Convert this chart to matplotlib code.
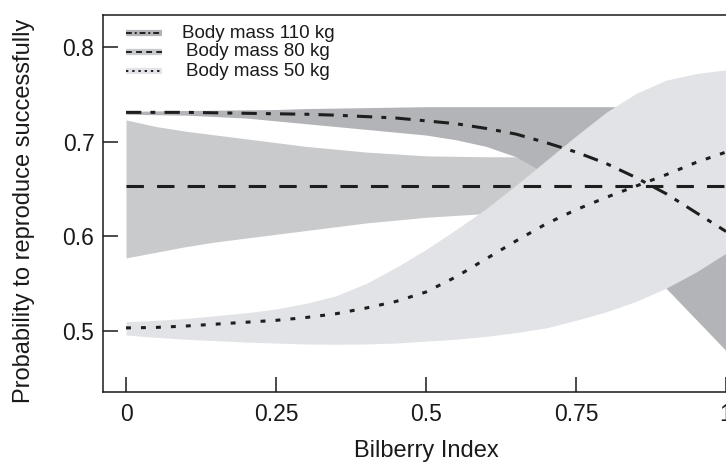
import numpy as np
import matplotlib
matplotlib.use("Agg")
import matplotlib.pyplot as plt

plt.rcParams["font.family"] = ["Liberation Sans", "DejaVu Sans"]

# ==============================
# Data (predicted probability vs bilberry index)
# ==============================
bilberry = [0.0, 0.05, 0.1, 0.15, 0.2, 0.25, 0.3, 0.35, 0.4, 0.45, 0.5,
            0.55, 0.6, 0.65, 0.7, 0.75, 0.8, 0.85, 0.9, 0.95, 1.0]

fit_110 = [0.731, 0.731, 0.731, 0.7305, 0.730, 0.7295, 0.729, 0.728, 0.7265, 0.725, 0.722,
           0.719, 0.714, 0.708, 0.699, 0.689, 0.677, 0.662, 0.645, 0.625, 0.605]
lo_110 = [0.729, 0.7285, 0.728, 0.7265, 0.725, 0.722, 0.719, 0.716, 0.713, 0.710, 0.707,
          0.702, 0.695, 0.684, 0.666, 0.640, 0.612, 0.580, 0.545, 0.512, 0.479]
hi_110 = [0.732, 0.7325, 0.733, 0.7333, 0.7337, 0.734, 0.735, 0.7355, 0.736, 0.7365, 0.737,
          0.737, 0.737, 0.737, 0.737, 0.737, 0.737, 0.737, 0.737, 0.737, 0.737]

fit_80 = [0.6534] * len(bilberry)
lo_80 = [0.577, 0.583, 0.589, 0.594, 0.598, 0.602, 0.606, 0.610, 0.614, 0.617, 0.620,
         0.622, 0.624, 0.625, 0.625, 0.625, 0.625, 0.625, 0.625, 0.625, 0.625]
hi_80 = [0.723, 0.716, 0.711, 0.707, 0.703, 0.699, 0.695, 0.692, 0.689, 0.687, 0.685,
         0.6845, 0.684, 0.684, 0.684, 0.684, 0.684, 0.684, 0.684, 0.684, 0.684]

fit_50 = [0.503, 0.5035, 0.505, 0.507, 0.509, 0.511, 0.514, 0.518, 0.524, 0.531, 0.541,
          0.557, 0.576, 0.595, 0.613, 0.628, 0.641, 0.653, 0.665, 0.678, 0.689]
lo_50 = [0.4955, 0.493, 0.491, 0.4895, 0.488, 0.487, 0.486, 0.4857, 0.486, 0.487, 0.489,
         0.491, 0.494, 0.498, 0.503, 0.511, 0.520, 0.531, 0.545, 0.562, 0.582]
hi_50 = [0.5095, 0.511, 0.513, 0.516, 0.519, 0.523, 0.529, 0.537, 0.550, 0.567, 0.586,
         0.607, 0.629, 0.654, 0.680, 0.706, 0.731, 0.751, 0.765, 0.772, 0.776]

labels = ["Body mass 110 kg", "Body mass 80 kg", "Body mass 50 kg"]

# ==============================
# Styles
# ==============================
C_DARK = "#b3b4b7"
C_MID = "#c9cacc"
C_LIGHT = "#e2e3e6"
C_LINE = "#1e1e1e"
LW = 2.2

DASH_110 = (0, (5.0, 3.0, 1.6, 3.0))
DASH_80 = (0, (5.7, 4.3))
DASH_50 = (0, (1.6, 3.3))

fig = plt.figure(figsize=(7.26, 4.68), dpi=100)
# axes run past the right edge of the figure
ax = fig.add_axes([0.1415, 0.163, 0.8916, 0.805])

x = np.array(bilberry)

# bands: 80 kg first, then 110 kg, then 50 kg on top
ax.fill_between(x, lo_80, hi_80, color=C_MID, linewidth=0)
ax.fill_between(x, lo_110, hi_110, color=C_DARK, linewidth=0)
ax.fill_between(x, lo_50, hi_50, color=C_LIGHT, linewidth=0)

ax.plot(x, fit_110, color=C_LINE, linewidth=LW, linestyle=DASH_110)
ax.plot(x, fit_80, color=C_LINE, linewidth=LW, linestyle=DASH_80)
ax.plot(x, fit_50, color=C_LINE, linewidth=LW, linestyle=DASH_50)

ax.set_xlim(-0.0388, 1.04)
ax.set_ylim(0.4355, 0.834)

ax.set_xticks([0, 0.25, 0.5, 0.75, 1])
ax.set_xticklabels(["0", "0.25", "0.5", "0.75", "1"])
ax.set_yticks([0.5, 0.6, 0.7, 0.8])
ax.set_yticklabels(["0.5", "0.6", "0.7", "0.8"])

ax.tick_params(axis="both", direction="in", length=11, width=1.1,
               labelsize=16.5, colors="#1a1a1a")
ax.tick_params(axis="x", pad=8)
ax.tick_params(axis="y", pad=6)
for sp in ax.spines.values():
    sp.set_linewidth(1.1)
    sp.set_color("#1a1a1a")

ax.set_xlabel("Bilberry Index", fontsize=17, color="#1a1a1a", labelpad=10)
ax.set_ylabel("Probability to reproduce successfully", fontsize=17, color="#1a1a1a")
ax.yaxis.set_label_coords(-0.104, 0.48)

# ==============================
# Legend (grey band swatch + line sample)
# ==============================
leg_rows = [0.952, 0.902, 0.851]
leg_fill = [C_DARK, C_MID, C_LIGHT]
leg_dash = [(0, (3.0, 1.5, 1.0, 1.5)), (0, (3.0, 2.2)), (0, (1.2, 2.0))]
for yy, lab, fc, ds in zip(leg_rows, labels, leg_fill, leg_dash):
    ax.plot([0.036, 0.092], [yy, yy], transform=ax.transAxes, color=fc,
            linewidth=4.5, solid_capstyle="butt", clip_on=False)
    ax.plot([0.036, 0.092], [yy, yy], transform=ax.transAxes, color=C_LINE,
            linewidth=1.4, linestyle=ds, clip_on=False)
    ax.text(0.240, yy, lab, transform=ax.transAxes, ha="center", va="center",
            fontsize=13.5, color="#1a1a1a")

fig.savefig("out.png", dpi=100)
